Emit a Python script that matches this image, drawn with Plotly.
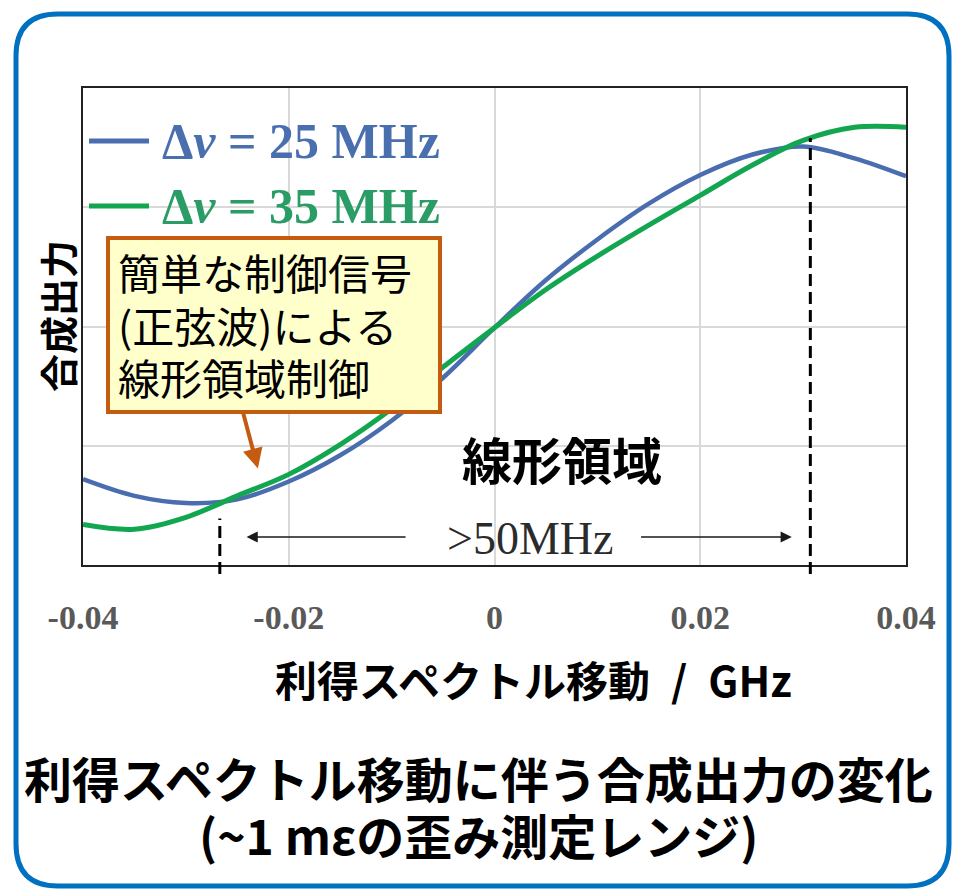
import plotly.graph_objects as go

# Gain-spectrum shift (GHz) and combined output (arb. units) for two linewidths
shift_ghz = [-0.040, -0.035, -0.030, -0.025, -0.020, -0.015, -0.010, -0.005, 0.000,
             0.005, 0.010, 0.015, 0.020, 0.025, 0.030, 0.035, 0.040]
output_25mhz = [0.72, 0.58, 0.52, 0.55, 0.70, 0.92, 1.21, 1.57, 1.99,
                2.39, 2.73, 3.03, 3.27, 3.44, 3.51, 3.41, 3.26]
output_35mhz = [0.34, 0.30, 0.40, 0.58, 0.76, 1.01, 1.31, 1.66, 1.99,
                2.31, 2.59, 2.85, 3.10, 3.35, 3.56, 3.67, 3.67]
series_names = ["Δ<i>ν</i> = 25 MHz", "Δ<i>ν</i> = 35 MHz"]
series_colors = ["#4A6DB0", "#13A651"]
legend_text_colors = ["#4A6FAE", "#2A9C66"]

x_tick_vals = [-0.04, -0.02, 0, 0.02, 0.04]
x_tick_labels = ["-0.04", "-0.02", "0", "0.02", "0.04"]

# Edges of the linear region and where their markers start
linear_region_bounds = [-0.0267, 0.0307]
linear_region_tops = [0.39, 3.58]
span_label = ">50MHz"

callout_lines = ["簡単な制御信号", "(正弦波)による", "線形領域制御"]
caption_lines = ["利得スペクトル移動に伴う合成出力の変化", "(~1 mεの歪み測定レンジ)"]

W, H = 955, 891
Y_MAX = 4.0
X_DOM = [83 / W, 906 / W]
Y_DOM = [1 - 565 / H, 1 - 88 / H]


def px(x):
    return x / W


def py(y):
    return 1 - y / H


def yfrac(v):
    return Y_DOM[0] + v / Y_MAX * (Y_DOM[1] - Y_DOM[0])


fig = go.Figure()
for vals, name, color, width in zip([output_25mhz, output_35mhz], series_names,
                                     series_colors, [4.5, 5]):
    fig.add_trace(go.Scatter(x=shift_ghz, y=vals, mode="lines", name=name,
                             line=dict(color=color, width=width, shape="spline",
                                       smoothing=1.0)))

shapes = []
annotations = []

# Rounded blue outer frame
L, T, R, B, r = 16, 14, 949, 886, 42
path = (f"M {px(L + r)},{py(T)} L {px(R - r)},{py(T)} Q {px(R)},{py(T)} {px(R)},{py(T + r)} "
        f"L {px(R)},{py(B - r)} Q {px(R)},{py(B)} {px(R - r)},{py(B)} "
        f"L {px(L + r)},{py(B)} Q {px(L)},{py(B)} {px(L)},{py(B - r)} "
        f"L {px(L)},{py(T + r)} Q {px(L)},{py(T)} {px(L + r)},{py(T)} Z")
shapes.append(dict(type="path", xref="paper", yref="paper", path=path,
                   line=dict(color="#0070C0", width=5)))

# Legend drawn inside the plot area
for i, (name, color, tcolor) in enumerate(zip(series_names, series_colors, legend_text_colors)):
    yc = 141 + i * 65
    shapes.append(dict(type="line", xref="paper", yref="paper",
                       x0=px(89), x1=px(149), y0=py(yc), y1=py(yc),
                       line=dict(color=color, width=5)))
    annotations.append(dict(xref="paper", yref="paper", x=px(160), y=py(yc),
                            xanchor="left", yanchor="middle", showarrow=False,
                            text=f"<b>{name}</b>",
                            font=dict(family="Liberation Serif", size=50, color=tcolor)))

# Dashed markers at the edges of the linear region
for xb, top in zip(linear_region_bounds, linear_region_tops):
    shapes.append(dict(type="line", xref="x", yref="paper", x0=xb, x1=xb,
                       y0=py(574), y1=yfrac(top),
                       line=dict(color="black", width=3, dash="12px,6px")))

# Callout box
shapes.append(dict(type="rect", xref="paper", yref="paper",
                   x0=px(108), x1=px(440), y0=py(412), y1=py(238),
                   fillcolor="#FFFFCC", line=dict(color="#C55A11", width=4)))

for i, line in enumerate(callout_lines):
    annotations.append(dict(xref="paper", yref="paper", x=px(116), y=py(272 + i * 52),
                            xanchor="left", yanchor="middle", showarrow=False,
                            text=line,
                            font=dict(family="Noto Sans CJK JP", size=42, color="black")))

# Callout pointer onto the curves
annotations.append(dict(xref="x", yref="y", axref="x", ayref="y",
                        x=-0.0230, y=0.81, ax=-0.02445, ay=1.28, text="",
                        showarrow=True, arrowhead=2, arrowsize=1, arrowwidth=4,
                        arrowcolor="#C55A11"))

# Linear region label and span arrows
annotations.append(dict(xref="paper", yref="paper", x=px(562), y=py(458),
                        xanchor="center", yanchor="middle", showarrow=False,
                        text="<b>線形領域</b>",
                        font=dict(family="Noto Sans CJK JP", size=50, color="black")))
annotations.append(dict(xref="paper", yref="paper", x=px(530), y=py(538),
                        xanchor="center", yanchor="middle", showarrow=False,
                        text=span_label,
                        font=dict(family="Liberation Serif", size=46, color="#2B2B2B")))
annotations.append(dict(xref="x", yref="y", axref="x", ayref="y",
                        x=-0.0241, y=0.235, ax=-0.0085, ay=0.235, text="",
                        showarrow=True, arrowhead=2, arrowsize=1.4, arrowwidth=1.6,
                        arrowcolor="#1A1A1A"))
annotations.append(dict(xref="x", yref="y", axref="x", ayref="y",
                        x=0.0289, y=0.235, ax=0.0141, ay=0.235, text="",
                        showarrow=True, arrowhead=2, arrowsize=1.4, arrowwidth=1.6,
                        arrowcolor="#1A1A1A"))

# Axis titles
annotations.append(dict(xref="paper", yref="paper", x=px(57), y=py(316),
                        xanchor="center", yanchor="middle", showarrow=False, textangle=-90,
                        text="<b>合成出力</b>",
                        font=dict(family="Noto Sans CJK JP", size=38, color="black")))
annotations.append(dict(xref="paper", yref="paper", x=px(533), y=py(678),
                        xanchor="center", yanchor="middle", showarrow=False,
                        text="<b>利得スペクトル移動\u2002/\u2002GHz</b>",
                        font=dict(family="Noto Sans CJK JP", size=42, color="black")))

# Caption
for i, line in enumerate(caption_lines):
    annotations.append(dict(xref="paper", yref="paper", x=px(478), y=py(777 + i * 57),
                            xanchor="center", yanchor="middle", showarrow=False,
                            text=f"<b>{line}</b>",
                            font=dict(family="Noto Sans CJK JP", size=48, color="black")))

fig.update_layout(
    width=W, height=H, autosize=False,
    margin=dict(l=0, r=0, t=0, b=0, pad=0),
    paper_bgcolor="white", plot_bgcolor="white",
    showlegend=False,
    shapes=shapes, annotations=annotations,
    xaxis=dict(domain=X_DOM, range=[-0.04, 0.04], automargin=False,
               tickvals=x_tick_vals, ticktext=x_tick_labels,
               showgrid=True, gridcolor="#D9D9D9", gridwidth=1.5, zeroline=False,
               showline=True, linecolor="#222222", linewidth=2, mirror=True,
               ticks="outside", ticklen=21, tickcolor="rgba(0,0,0,0)",
               tickfont=dict(family="Liberation Serif", size=34, color="#595959",
                             weight="bold")),
    yaxis=dict(domain=Y_DOM, range=[0, Y_MAX], tickvals=[1, 2, 3], automargin=False,
               showticklabels=False, showgrid=True, gridcolor="#D9D9D9",
               gridwidth=1.5, zeroline=False,
               showline=True, linecolor="#222222", linewidth=1.5, mirror=True),
)

fig.write_html("out.html")
